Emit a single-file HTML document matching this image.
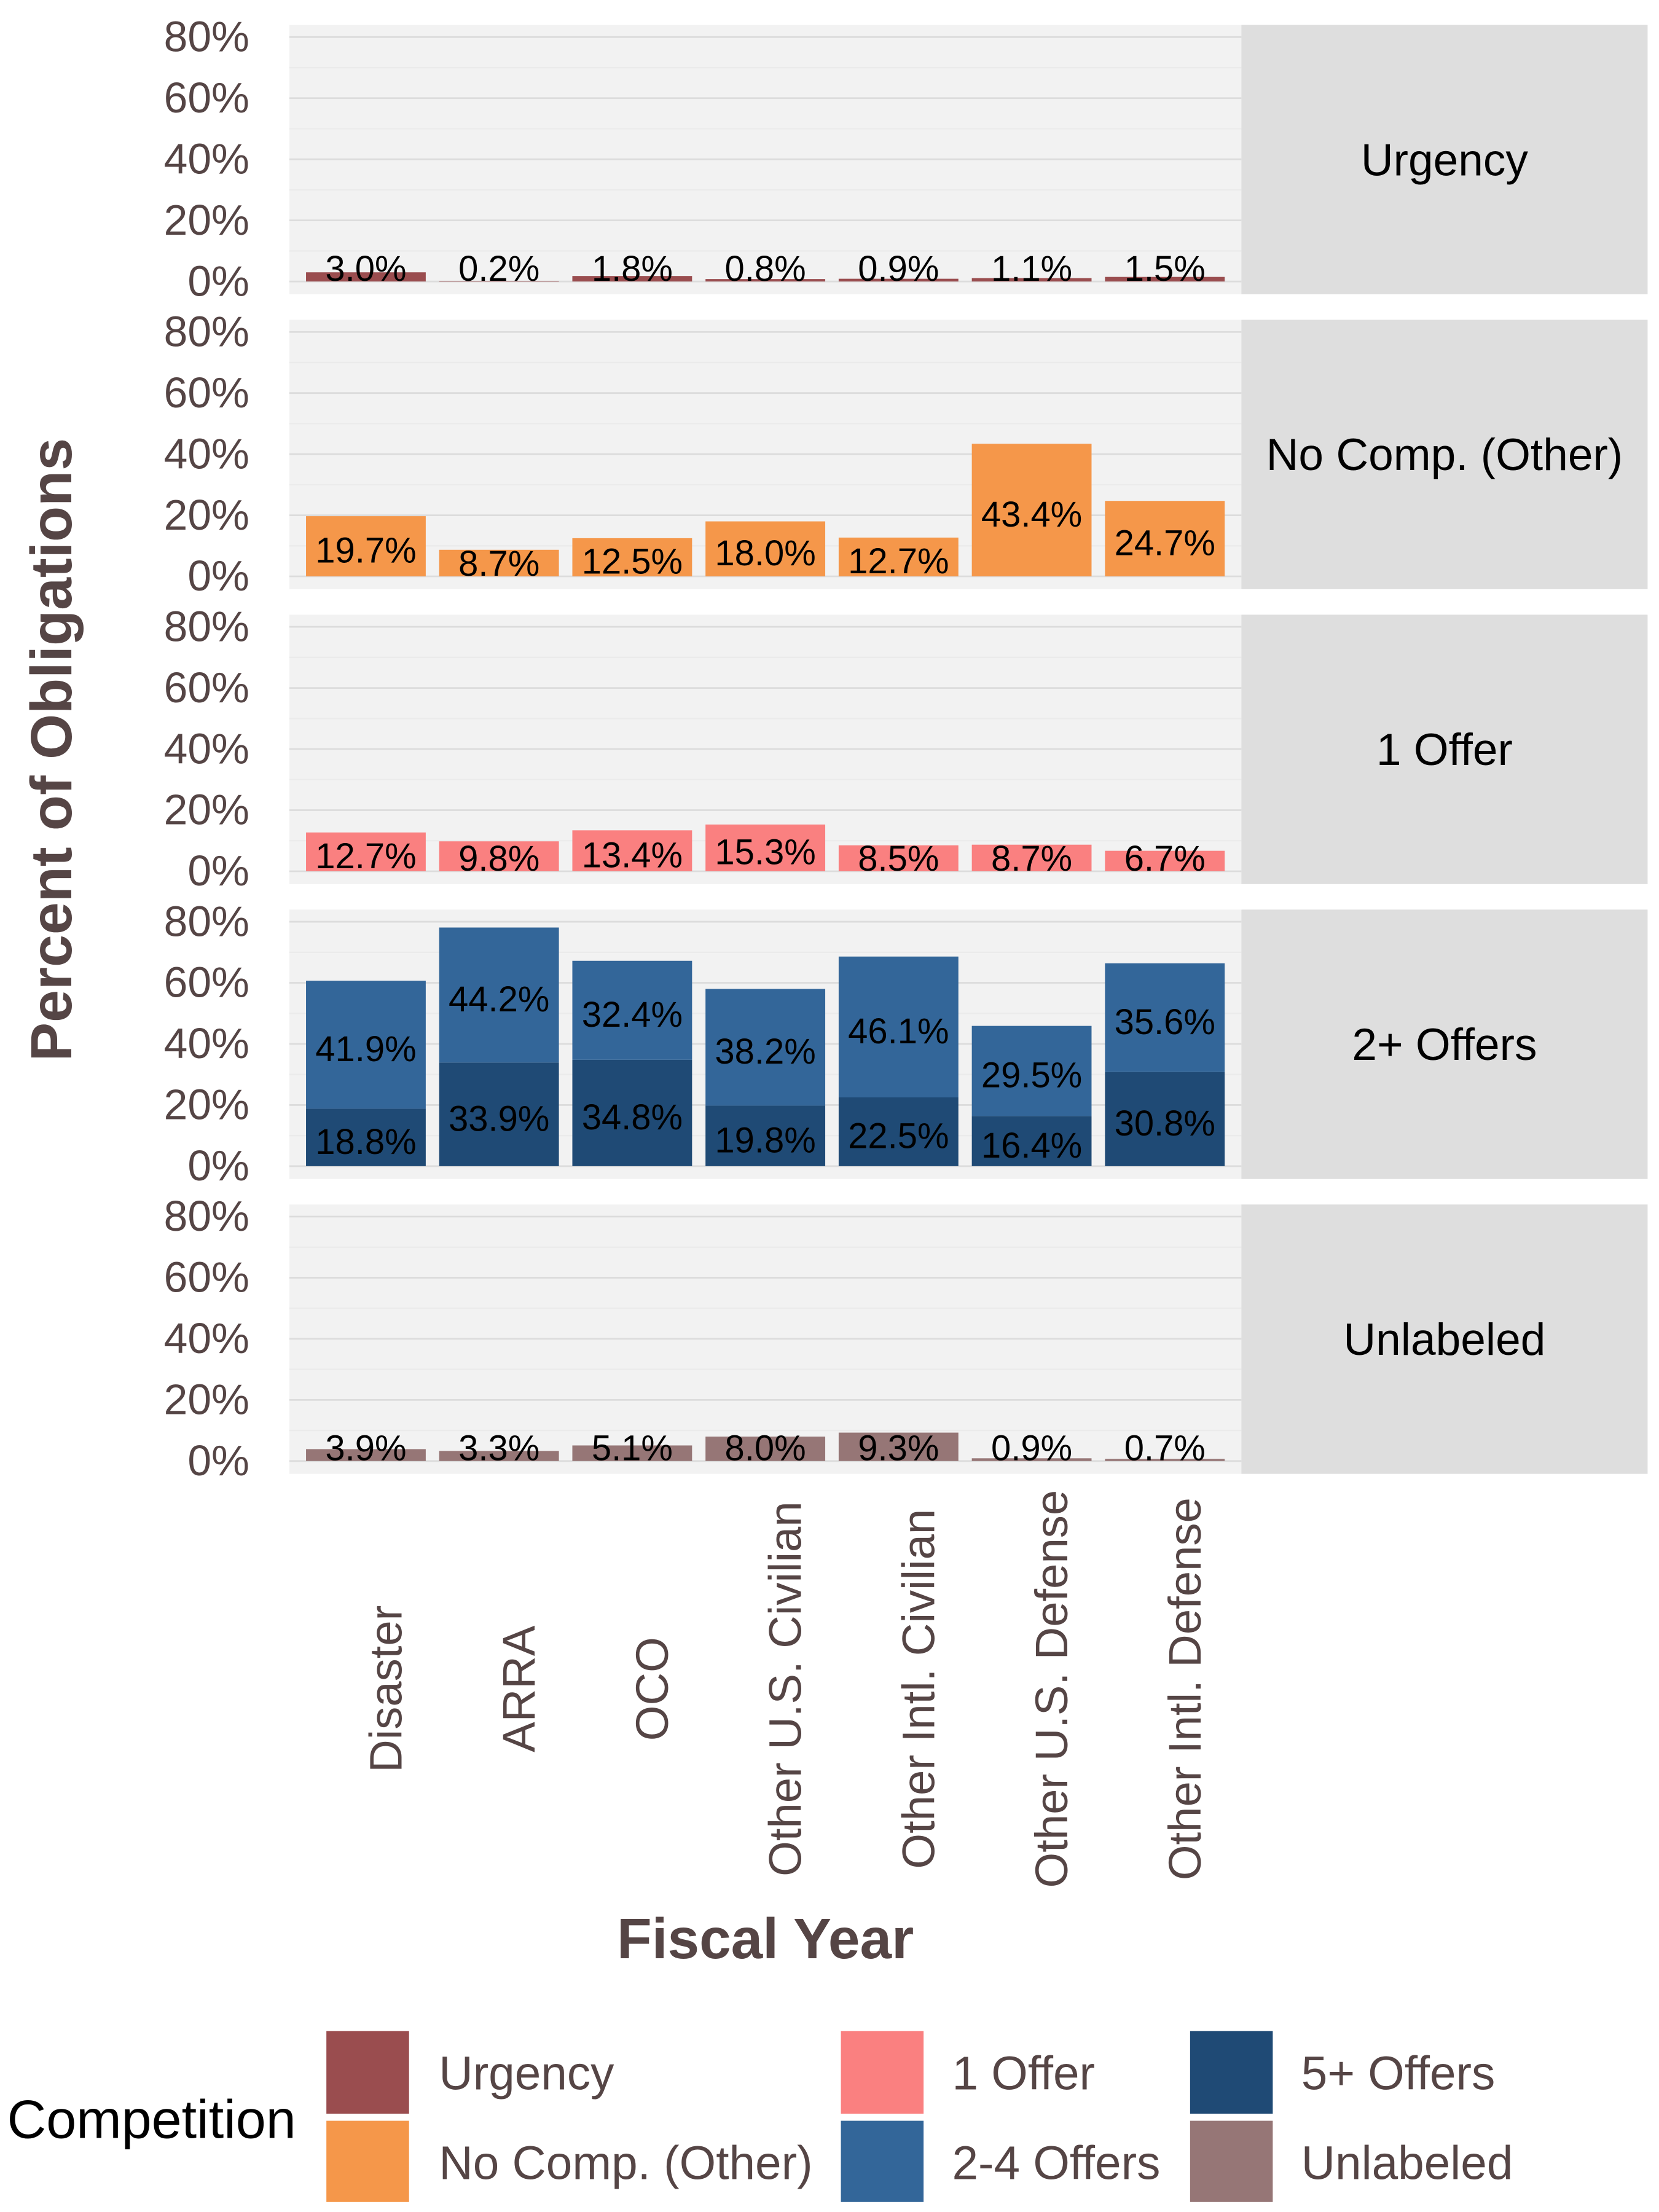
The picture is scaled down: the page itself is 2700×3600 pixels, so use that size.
<!DOCTYPE html>
<html><head><meta charset="utf-8"><style>
html,body{margin:0;padding:0;background:#fff}
svg{display:block}
text{font-family:"Liberation Sans",sans-serif}
</style></head><body>
<svg id="chart" width="2700" height="3600" viewBox="0 0 1164 1552" preserveAspectRatio="none" xmlns="http://www.w3.org/2000/svg">
<rect x="0" y="0" width="1164" height="1552" fill="#fff"/>
<text transform="translate(50,526) rotate(-90)" text-anchor="middle" font-size="41" font-weight="bold" fill="#554545">Percent of Obligations</text>
<text x="537" y="1374" text-anchor="middle" font-size="40" font-weight="bold" fill="#554545">Fiscal Year</text>
<g>
<text x="5" y="1500" font-size="38" fill="#000">Competition</text>
<rect x="229" y="1425" width="58" height="58" fill="#9a4d4f"/>
<text x="308" y="1466" font-size="33" fill="#554545">Urgency</text>
<rect x="229" y="1488" width="58" height="57" fill="#f5974a"/>
<text x="308" y="1529" font-size="33" fill="#554545">No Comp. (Other)</text>
<rect x="590" y="1425" width="58" height="58" fill="#fa8080"/>
<text x="668" y="1466" font-size="33" fill="#554545">1 Offer</text>
<rect x="590" y="1488" width="58" height="57" fill="#336699"/>
<text x="668" y="1529" font-size="33" fill="#554545">2-4 Offers</text>
<rect x="835" y="1425" width="58" height="58" fill="#1f4a75"/>
<text x="913" y="1466" font-size="33" fill="#554545">5+ Offers</text>
<rect x="835" y="1488" width="58" height="57" fill="#967676"/>
<text x="913" y="1529" font-size="33" fill="#554545">Unlabeled</text>
</g>
</svg>
<script>
const categories = ["Disaster","ARRA","OCO","Other U.S. Civilian","Other Intl. Civilian","Other U.S. Defense","Other Intl. Defense"];
const panels = ["Urgency","No Comp. (Other)","1 Offer","2+ Offers","Unlabeled"];
const urgency = [3.0,0.2,1.8,0.8,0.9,1.1,1.5];
const noComp = [19.7,8.7,12.5,18.0,12.7,43.4,24.7];
const oneOffer = [12.7,9.8,13.4,15.3,8.5,8.7,6.7];
const fivePlus = [18.8,33.9,34.8,19.8,22.5,16.4,30.8];
const twoToFour = [41.9,44.2,32.4,38.2,46.1,29.5,35.6];
const unlabeled = [3.9,3.3,5.1,8.0,9.3,0.9,0.7];
const yTicks = [0,20,40,60,80];

const NS = "http://www.w3.org/2000/svg";
const svg = document.getElementById("chart");
function mk(tag, attrs, parent){const e=document.createElementNS(NS,tag);for(const k in attrs)e.setAttribute(k,attrs[k]);(parent||svg).appendChild(e);return e;}
const plotL=203, plotR=871, stripR=1156;
const baseY0=197.5, panelStep=206.9, pxPer=171.5/80;
const step=(plotR-plotL-14)/categories.length;
function xC(i){return plotL+7+step*(i+0.5);}
const barW=84;

const seriesByPanel = [
  [{v:urgency,c:"#9a4d4f"}],
  [{v:noComp,c:"#f5974a"}],
  [{v:oneOffer,c:"#fa8080"}],
  [{v:fivePlus,c:"#1f4a75"},{v:twoToFour,c:"#336699"}],
  [{v:unlabeled,c:"#967676"}]
];

panels.forEach((pn,p)=>{
  const y0 = baseY0 + p*panelStep;
  const yS = v => y0 - v*pxPer;
  const g = mk("g",{});
  
  
  const top=y0-180, bot=y0+9;
  const bg=mk("rect",{x:plotL,y:top,width:plotR-plotL,height:bot-top,fill:"#f2f2f2"},g);
  
  
  for(let t=10;t<=80;t+=20){
    const l=mk("line",{x1:plotL,x2:plotR,y1:yS(t),y2:yS(t),stroke:"#ebebeb","stroke-width":1},g);
    
    
  }
  yTicks.forEach(t=>{
    const l=mk("line",{x1:plotL,x2:plotR,y1:yS(t),y2:yS(t),stroke:"#dcdcdc","stroke-width":1.2},g);
    
    
    const tx=mk("text",{x:175,y:yS(t)+10,"text-anchor":"end","font-size":30,fill:"#554545"},g);
    tx.textContent=t+"%";
    
    
  });
  const strip=mk("rect",{x:plotR,y:top,width:stripR-plotR,height:bot-top,fill:"#dedede"},g);
  
  
  const st=mk("text",{x:(plotR+stripR)/2,y:(top+bot)/2+11,"text-anchor":"middle","font-size":31.5,fill:"#000"},g);
  st.textContent=pn;
  
  
  categories.forEach((c,i)=>{
    let cum=0;
    seriesByPanel[p].forEach(s=>{
      const v=s.v[i];
      const r=mk("rect",{x:xC(i)-barW/2,y:yS(cum+v),width:barW,height:v*pxPer,fill:s.c},g);
      
      
      const cy=Math.min(y0-9, yS(cum+v/2)+3);
      const lt=mk("text",{x:xC(i),y:cy+8.5,"text-anchor":"middle","font-size":25,fill:"#000"},g);
      lt.textContent=v.toFixed(1)+"%";
      
      
      cum+=v;
    });
  });
});
categories.forEach((c,i)=>{
  const t=mk("text",{transform:`translate(${xC(i)+25},1185) rotate(-90)`,"text-anchor":"middle","font-size":32,fill:"#554545"});
  t.textContent=c;
  
  
});
</script>
</body></html>
